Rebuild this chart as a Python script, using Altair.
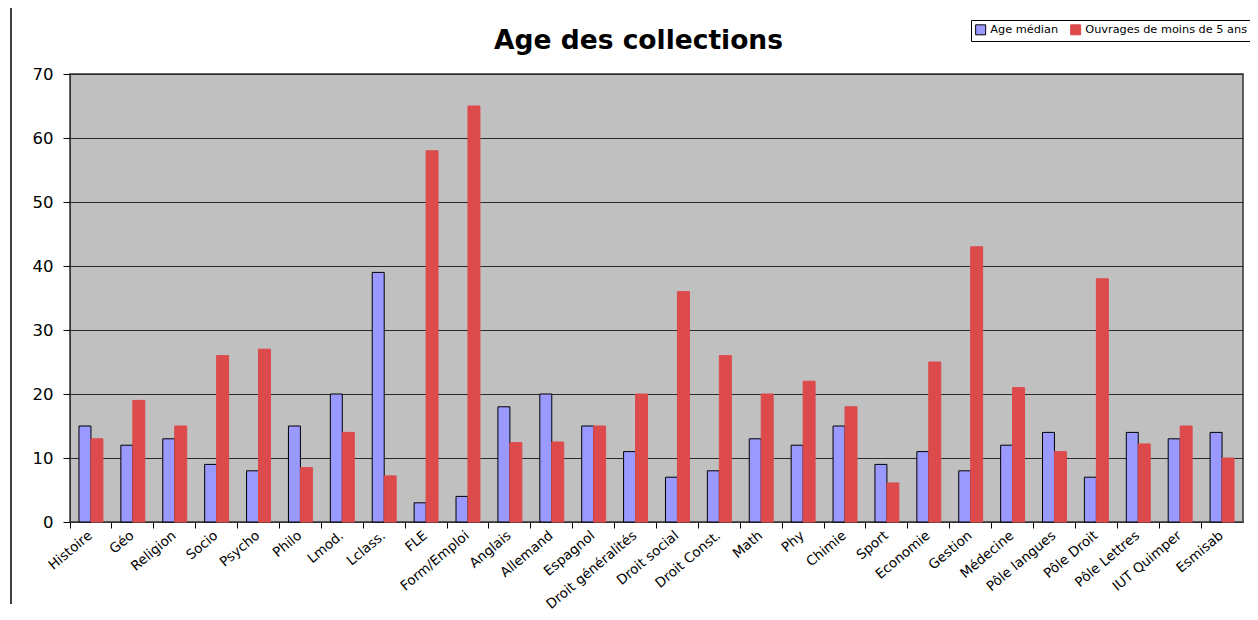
import altair as alt
import pandas as pd

categories = ["Histoire", "Géo", "Religion", "Socio", "Psycho", "Philo", "Lmod.", "Lclass.",
              "FLE", "Form/Emploi", "Anglais", "Allemand", "Espagnol", "Droit généralités",
              "Droit social", "Droit Const.", "Math", "Phy", "Chimie", "Sport", "Economie",
              "Gestion", "Médecine", "Pôle langues", "Pôle Droit", "Pôle Lettres",
              "IUT Quimper", "Esmisab"]
age_median = [15, 12, 13, 9, 8, 15, 20, 39, 3, 4, 18, 20, 15, 11, 7, 8, 13, 12, 15, 9, 11,
              8, 12, 14, 7, 14, 13, 14]
moins_5_ans = [13, 19, 15, 26, 27, 8.5, 14, 7.2, 58, 65, 12.4, 12.5, 15, 20, 36, 26, 20, 22,
               18, 6.1, 25, 43, 21, 11, 38, 12.2, 15, 10]
series = ["Age médian", "Ouvrages de moins de 5 ans"]
colors = ["#9999FF", "#DC4A4C"]
strokes = ["#000000", "#DC4A4C"]
y_ticks = [0, 10, 20, 30, 40, 50, 60, 70]

rows = []
for c, a, m in zip(categories, age_median, moins_5_ans):
    rows.append({"cat": c, "series": series[0], "value": a})
    rows.append({"cat": c, "series": series[1], "value": m})
df = pd.DataFrame(rows)

W, H = 1173, 448

bars = alt.Chart(df).mark_bar(strokeWidth=1).encode(
    x=alt.X("cat:N", sort=categories, title=None,
            scale=alt.Scale(paddingInner=0, paddingOuter=0),
            axis=alt.Axis(labelAngle=-40, labelFont="DejaVu Sans", labelFontSize=13.5,
                          labelColor="#000000", tickColor="#000000", tickSize=6,
                          bandPosition=0, domainColor="#333333", labelPadding=0,
                          labelOffset=-5)),
    xOffset=alt.XOffset("series:N", sort=series,
                        scale=alt.Scale(paddingInner=0, paddingOuter=0.75)),
    y=alt.Y("value:Q", title=None,
            scale=alt.Scale(domain=[0, 70], nice=False),
            axis=alt.Axis(values=y_ticks, labelFont="DejaVu Sans", labelFontSize=16.5,
                          labelColor="#000000", tickColor="#000000", tickSize=7,
                          domainColor="#333333", gridColor="#2a2a2a", gridWidth=1.2,
                          gridOpacity=1, labelPadding=10)),
    fill=alt.Fill("series:N", sort=series, title=None,
                  scale=alt.Scale(domain=series, range=colors)),
    stroke=alt.Stroke("series:N", sort=series, title=None,
                      scale=alt.Scale(domain=series, range=strokes)),
)

edge = alt.Chart(pd.DataFrame({"v": [0]})).mark_rule(color="#000000", strokeWidth=1.5).encode(
    x=alt.value(-59), y=alt.value(-74), y2=alt.value(530)
)

chart = alt.layer(edge, bars).properties(
    width=W, height=H,
    title=alt.TitleParams("Age des collections", font="DejaVu Sans", fontSize=26.5,
                          fontWeight="bold", color="#000000", anchor="middle", frame="group",
                          dx=-18, offset=0, dy=55),
    autosize=alt.AutoSizeParams(type="none"),
    padding={"left": 62, "top": 66, "right": 7, "bottom": 90},
).configure_view(
    fill="#C0C0C0", stroke="#333333", strokeWidth=1.5
).configure_legend(
    orient="none", legendX=901, legendY=-54, direction="horizontal",
    labelFont="DejaVu Sans", labelFontSize=11.3, labelColor="#000000",
    symbolType="square", symbolSize=100, symbolStrokeWidth=1,
    strokeColor="#000000", fillColor="#FFFFFF", padding=4, columnPadding=9,
    labelLimit=300
)

chart.save("out.html", embed_options={"renderer": "svg", "actions": False})
